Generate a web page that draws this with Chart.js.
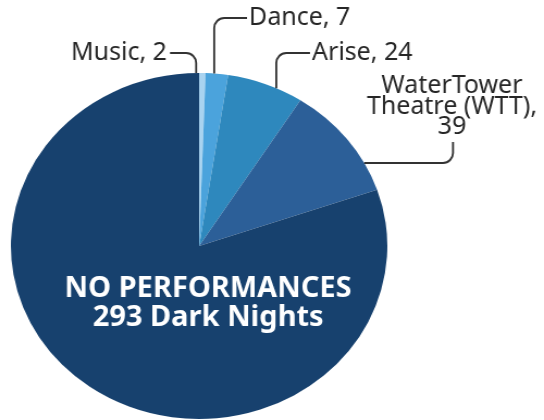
<!DOCTYPE html>
<html>
<head>
<meta charset="utf-8">
<script src="https://cdn.jsdelivr.net/npm/chart.js@4"></script>
<style>
  html, body { margin: 0; padding: 0; background: #fff; overflow: hidden; }
  #wrap { width: 500px; height: 420px; transform: scaleX(1.088); transform-origin: 0 0; }
</style>
</head>
<body>
<div id="wrap"><canvas id="c" width="500" height="420"></canvas></div>
<script>
const categories = ['Music', 'Dance', 'Arise', 'WaterTower Theatre (WTT)', 'NO PERFORMANCES'];
const nights = [2, 7, 24, 39, 293];
const colors = ['#a9d3f0', '#4ba3dc', '#2e88bd', '#2c5f98', '#17416e'];

// label text lines per slice (the big slice gets its label inside)
const labelLines = [
    ['Music, 2'],
    ['Dance, 7'],
    ['Arise, 24'],
    ['WaterTower', 'Theatre (WTT),', '39'],
];
const insideLines = ['NO PERFORMANCES', '293 Dark Nights'];

// the pie is drawn squashed, then the page stretches it wide
const SX = 1.088;

// leader placement in page pixels: rim angle (deg from top), elbow, text spot
const leaders = [
    {deg: -0.9, corner: 'up', y: 53, endX: 170, textX: 167, align: 'right'},
    {deg: 4.6,  corner: 'up', y: 18, endX: 247, textX: 249, align: 'left'},
    {deg: 24.2, corner: 'up', y: 53, endX: 310, textX: 312, align: 'left'},
    {deg: 61.3, corner: 'side', x: 453, endY: 142, textX: 452, textY: 86, align: 'center'},
];

const labelPlugin = {
    id: 'labels',
    afterDatasetsDraw(chart) {
        const ctx = chart.ctx;
        const arc = chart.getDatasetMeta(0).data[0];
        const cx = arc.x, cy = arc.y, r = arc.outerRadius;
        ctx.save();
        // undo the stretch so text and lines keep their shape
        ctx.scale(1 / SX, 1);
        ctx.strokeStyle = '#333333';
        ctx.lineWidth = 2;
        ctx.fillStyle = '#262626';
        ctx.font = '25px "Noto Sans", sans-serif';
        ctx.textBaseline = 'middle';
        leaders.forEach((l, i) => {
            const a = (l.deg - 90) * Math.PI / 180;
            const ax = (cx + r * Math.cos(a)) * SX;
            const ay = cy + r * Math.sin(a);
            ctx.beginPath();
            ctx.moveTo(ax, ay);
            if (l.corner === 'up') {
                ctx.arcTo(ax, l.y, l.endX, l.y, 10);
                ctx.lineTo(l.endX, l.y);
            } else {
                ctx.arcTo(l.x, ay, l.x, l.endY, 10);
                ctx.lineTo(l.x, l.endY);
            }
            ctx.stroke();
            ctx.textAlign = l.align;
            const lines = labelLines[i];
            if (l.corner === 'up') {
                ctx.fillText(lines[0], l.textX, l.y);
            } else {
                lines.forEach((t, k) => ctx.fillText(t, l.textX, l.textY + k * 20.5));
            }
        });
        // inside label on the big slice
        ctx.fillStyle = '#ffffff';
        ctx.textAlign = 'center';
        ctx.font = 'bold 29px "Noto Sans", sans-serif';
        ctx.fillText(insideLines[0], cx * SX + 9, cy + 43);
        ctx.fillText(insideLines[1], cx * SX + 9, cy + 72);
        ctx.restore();
    }
};

new Chart(document.getElementById('c').getContext('2d'), {
    type: 'pie',
    data: {
        labels: categories,
        datasets: [{
            data: nights,
            backgroundColor: colors,
            borderWidth: 0
        }]
    },
    options: {
        responsive: false,
        animation: false,
        devicePixelRatio: 1,
        layout: {padding: {left: 10, right: 144, top: 73, bottom: 1}},
        plugins: {
            legend: {display: false},
            tooltip: {enabled: false}
        }
    },
    plugins: [labelPlugin]
});
</script>
</body>
</html>
